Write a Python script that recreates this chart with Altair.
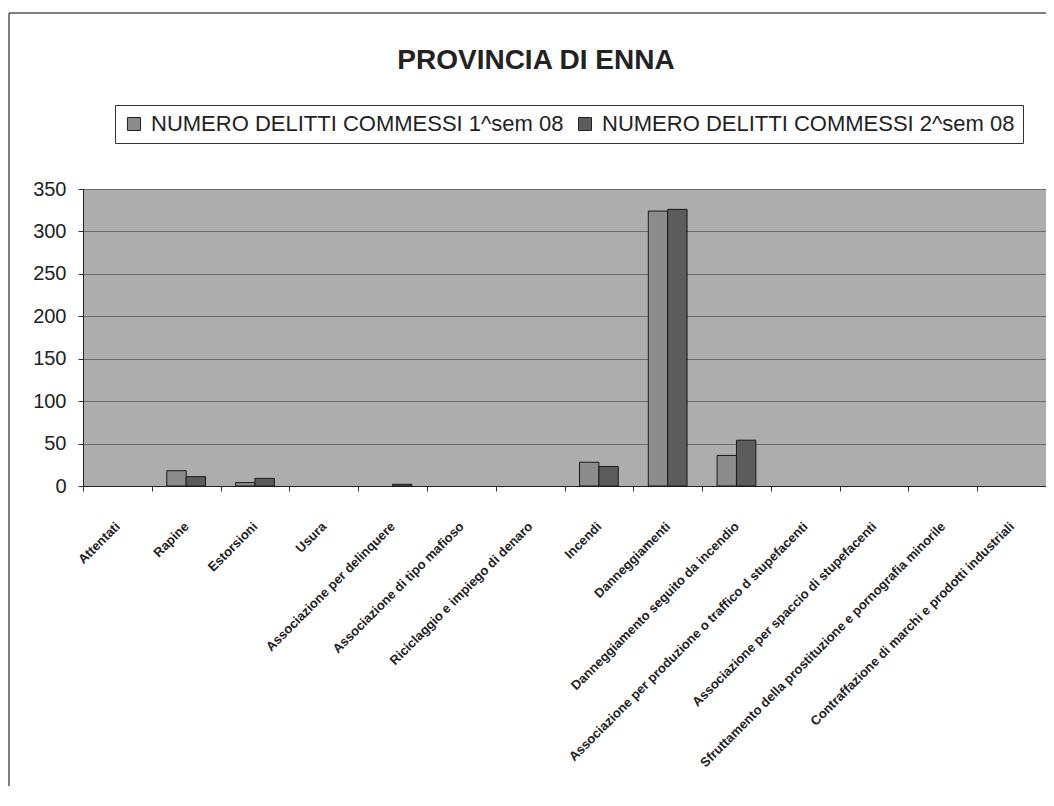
import altair as alt
import pandas as pd

categories = [
    "Attentati",
    "Rapine",
    "Estorsioni",
    "Usura",
    "Associazione per delinquere",
    "Associazione di tipo mafioso",
    "Riciclaggio e impiego di denaro",
    "Incendi",
    "Danneggiamenti",
    "Danneggiamento seguito da incendio",
    "Associazione per produzione o traffico d stupefacenti",
    "Associazione per spaccio di stupefacenti",
    "Sfruttamento della prostituzione e pornografia minorile",
    "Contraffazione di marchi e prodotti industriali",
]
series = ["NUMERO DELITTI COMMESSI 1^sem 08", "NUMERO DELITTI COMMESSI 2^sem 08"]
sem1 = [0, 18, 4, 0, 0, 0, 0, 28, 324, 36, 0, 0, 0, 0]
sem2 = [0, 11, 9, 0, 2, 0, 0, 23, 326, 54, 0, 0, 0, 0]
y_ticks = [0, 50, 100, 150, 200, 250, 300, 350]
title_text = "PROVINCIA DI ENNA"

rows = []
for c, a, b in zip(categories, sem1, sem2):
    rows.append({"categoria": c, "serie": series[0], "valore": a})
    rows.append({"categoria": c, "serie": series[1], "valore": b})
df = pd.DataFrame(rows)

W, H = 963, 297
SANS = "Liberation Sans, Arial, sans-serif"

bars = alt.Chart(df).transform_filter("datum.valore > 0").mark_bar(
    stroke="#1a1a1a", strokeWidth=1
).encode(
    x=alt.X(
        "categoria:N",
        sort=categories,
        scale=alt.Scale(domain=categories, paddingInner=0, paddingOuter=0),
        axis=alt.Axis(
            title=None,
            labelAngle=-45,
            labelAlign="right",
            labelBaseline="middle",
            labelPadding=33,
            labelFont=SANS,
            labelFontSize=13,
            labelFontWeight="bold",
            labelColor="#222222",
            labelLimit=500,
            tickBand="extent",
            tickColor="#333333",
            tickSize=5,
            domainColor="#222222",
            grid=False,
        ),
    ),
    xOffset=alt.XOffset(
        "serie:N",
        sort=series,
        scale=alt.Scale(domain=series, paddingInner=0, paddingOuter=0.775),
    ),
    y=alt.Y(
        "valore:Q",
        scale=alt.Scale(domain=[0, 350], nice=False),
        axis=alt.Axis(
            title=None,
            values=y_ticks,
            labelFont=SANS,
            labelFontSize=20,
            labelColor="#222222",
            labelPadding=12,
            tickColor="#333333",
            tickSize=5,
            domainColor="#222222",
            gridColor="#6a6a6a",
            gridWidth=1,
        ),
    ),
    color=alt.Color(
        "serie:N",
        sort=series,
        scale=alt.Scale(domain=series, range=["#8c8c8c", "#5c5c5c"]),
        legend=alt.Legend(
            title=None,
            orient="none",
            legendX=32,
            legendY=-84,
            direction="horizontal",
            symbolType="square",
            symbolSize=169,
            symbolStrokeColor="#222222",
            symbolStrokeWidth=1,
            labelFont=SANS,
            labelFontSize=22,
            labelColor="#222222",
            labelLimit=600,
            labelOffset=6,
            columnPadding=10,
            padding=8,
            strokeColor="#333333",
            fillColor="white",
        ),
    ),
)

one = pd.DataFrame({"t": [title_text]})

title = alt.Chart(one).mark_text(
    font=SANS,
    fontSize=28,
    fontWeight="bold",
    color="#222222",
    align="center",
    baseline="alphabetic",
).encode(
    text="t:N",
    x=alt.value(453),
    y=alt.value(-120),
)

frame_top = alt.Chart(one).mark_rule(stroke="#555555", strokeWidth=1.5).encode(
    x=alt.value(-74),
    x2=alt.value(W + 60),
    y=alt.value(-176),
)
frame_left = alt.Chart(one).mark_rule(stroke="#555555", strokeWidth=1.5).encode(
    x=alt.value(-74),
    y=alt.value(-176),
    y2=alt.value(H + 400),
)

chart = (
    alt.layer(bars, title, frame_top, frame_left)
    .properties(
        width=W,
        height=H,
        autosize=alt.AutoSizeParams(type="none"),
        padding={"left": 75, "top": 181, "right": 0, "bottom": 300},
        background="white",
    )
    .configure_view(fill="#adadad", stroke="#444444", strokeWidth=1)
)

chart.save("out.html", embed_options={"renderer": "svg", "actions": False})
